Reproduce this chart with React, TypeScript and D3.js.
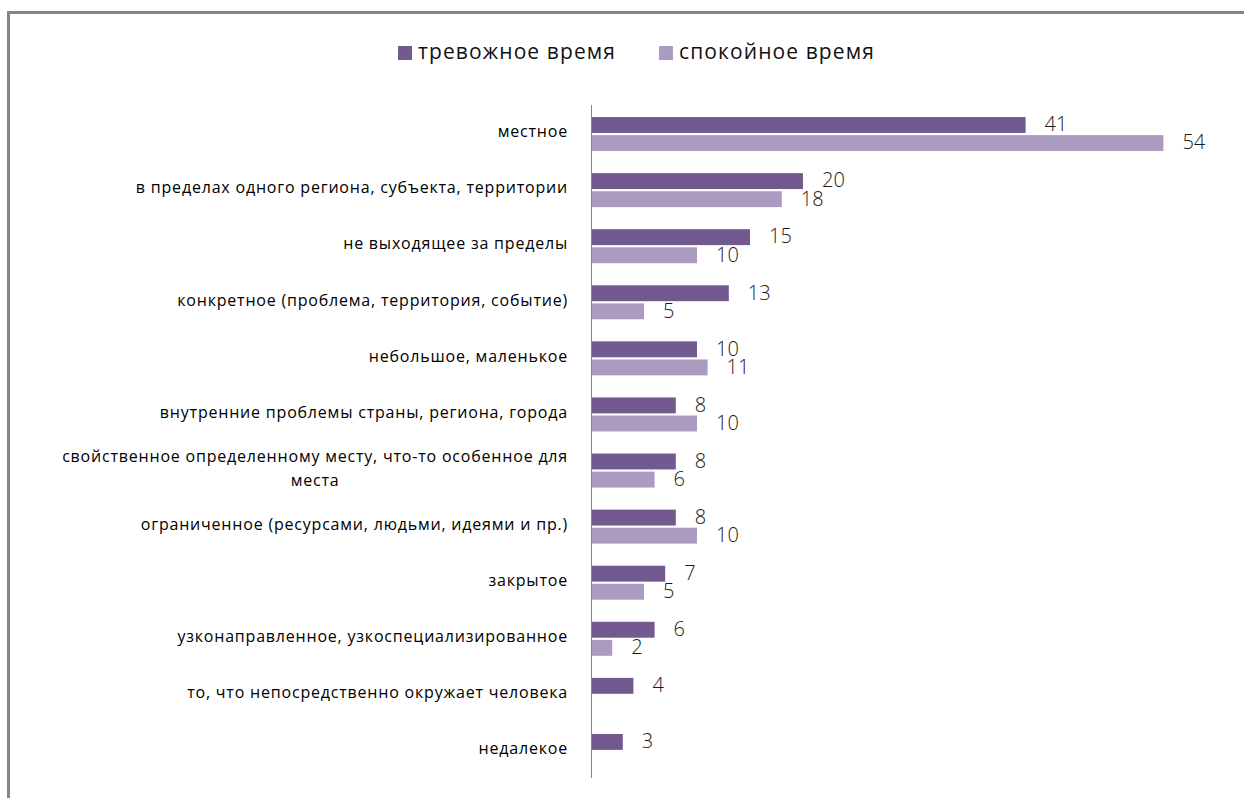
import { useEffect, useRef } from "react";
import * as d3 from "d3";

const categories = [
  ["местное"],
  ["в пределах одного региона, субъекта, территории"],
  ["не выходящее за пределы"],
  ["конкретное (проблема, территория, событие)"],
  ["небольшое, маленькое"],
  ["внутренние проблемы страны, региона, города"],
  ["свойственное определенному месту, что-то особенное для", "места"],
  ["ограниченное (ресурсами, людьми, идеями и пр.)"],
  ["закрытое"],
  ["узконаправленное, узкоспециализированное"],
  ["то, что непосредственно окружает человека"],
  ["недалекое"],
];
const seriesNames = ["тревожное время", "спокойное время"];
const anxious = [41, 20, 15, 13, 10, 8, 8, 8, 7, 6, 4, 3];
const calm = [54, 18, 10, 5, 11, 10, 6, 10, 5, 2, null, null];
const colors = ["#72598f", "#ab9bc0"];

const W = 1244, H = 798;
const plot = { left: 591, right: 1227, top: 105, bottom: 778 };
const labelFont = "'Open Sans', sans-serif";

const App = () => {
  const ref = useRef(null);

  useEffect(() => {
    const svg = d3.select(ref.current)
      .append("svg")
      .attr("width", W)
      .attr("height", H)
      .style("position", "absolute")
      .style("left", 0)
      .style("top", 0)
      .style("background", "#fff");

    // outer frame (only top and left visible)
    svg.append("rect")
      .attr("x", 8.5).attr("y", 12.5)
      .attr("width", 1400).attr("height", 1000)
      .attr("fill", "none")
      .attr("stroke", "#868686")
      .attr("stroke-width", 3);

    const idx = categories.map((_, i) => String(i));
    const y = d3.scaleBand().domain(idx).range([plot.top, plot.bottom]);
    const x = d3.scaleLinear().domain([0, 60]).range([plot.left, plot.right]);
    const bw = y.bandwidth();
    const inner = d3.scaleBand()
      .domain(seriesNames)
      .range([bw / 2 - 16, bw / 2 + 18])
      .paddingInner(0.12);

    const rows = idx.map((k, i) => ({ k, vals: [anxious[i], calm[i]] }));

    const g = svg.append("g")
      .selectAll("g")
      .data(rows)
      .join("g")
      .attr("transform", d => `translate(0,${y(d.k)})`);

    seriesNames.forEach((name, si) => {
      const sub = g.filter(d => d.vals[si] != null);
      sub.append("rect")
        .attr("x", x(0))
        .attr("y", inner(name))
        .attr("width", d => x(d.vals[si]) - x(0))
        .attr("height", inner.bandwidth())
        .attr("fill", colors[si]);
      sub.append("text")
        .attr("x", d => x(d.vals[si]) + 19)
        .attr("y", inner(name) + inner.bandwidth() / 2 + 1)
        .attr("dominant-baseline", "middle")
        .attr("font-family", labelFont)
        .attr("font-size", 20)
        .attr("font-weight", 300)
        .attr("fill", "#1a1a1a")
        .text(d => d.vals[si]);
    });

    // category labels
    const labelRight = 568;
    categories.forEach((lines, i) => {
      const cy = y(String(i)) + bw / 2;
      const t = svg.append("g");
      const texts = lines.map((ln, li) =>
        t.append("text")
          .attr("y", cy + (li - (lines.length - 1) / 2) * 24)
          .attr("dominant-baseline", "middle")
          .attr("font-family", labelFont)
          .attr("font-size", 16)
          .attr("letter-spacing", 0.8)
          .attr("fill", "#000")
          .attr("text-anchor", "middle")
          .text(ln)
      );
      const maxW = d3.max(texts, s => (s.node() as SVGTextElement).getComputedTextLength()) || 0;
      texts.forEach(s => s.attr("x", labelRight - maxW / 2));
    });

    // vertical axis line
    svg.append("line")
      .attr("x1", plot.left + 0.5).attr("x2", plot.left + 0.5)
      .attr("y1", plot.top).attr("y2", plot.bottom)
      .attr("stroke", "#868686");

    // legend
    const lx = [398, 659];
    seriesNames.forEach((name, i) => {
      svg.append("rect")
        .attr("x", lx[i]).attr("y", 46)
        .attr("width", 14).attr("height", 14)
        .attr("fill", colors[i]);
      svg.append("text")
        .attr("x", lx[i] + 20).attr("y", 53)
        .attr("dominant-baseline", "middle")
        .attr("font-family", labelFont)
        .attr("font-size", 21)
        .attr("letter-spacing", 1.1)
        .attr("fill", "#111")
        .text(name);
    });

    return () => {
      d3.select(ref.current).select("svg").remove();
    };
  }, []);

  return <div ref={ref}></div>;
};

export default App;
